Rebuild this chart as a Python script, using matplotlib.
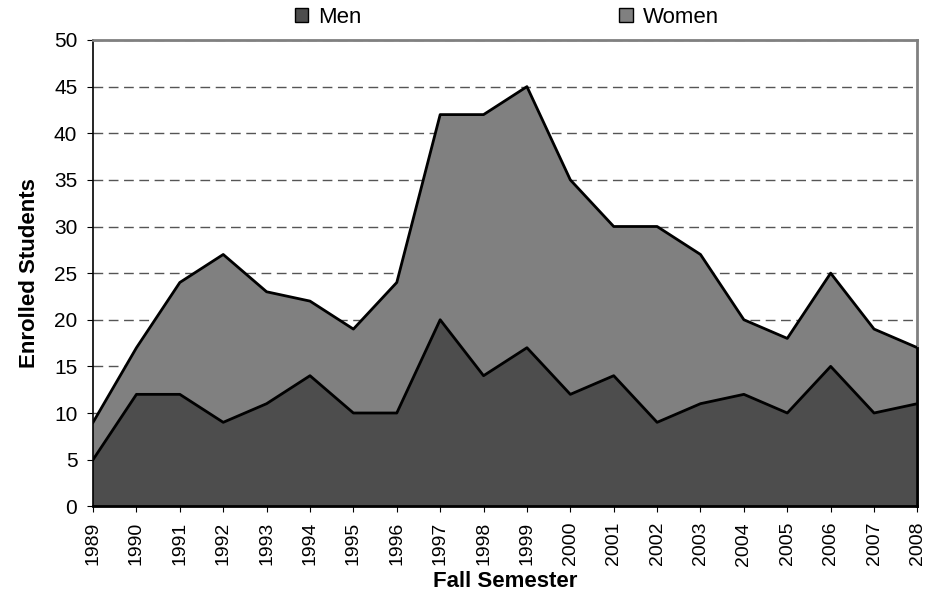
import matplotlib.pyplot as plt
from matplotlib.patches import Patch

years = list(range(1989, 2009))
men = [5, 12, 12, 9, 11, 14, 10, 10, 20, 14, 17, 12, 14, 9, 11, 12, 10, 15, 10, 11]
total = [9, 17, 24, 27, 23, 22, 19, 24, 42, 42, 45, 35, 30, 30, 27, 20, 18, 25, 19, 17]
women = [t - m for t, m in zip(total, men)]

plt.rcParams['font.family'] = 'Liberation Sans'

fig = plt.figure(figsize=(9.4, 5.97), dpi=100)
ax = fig.add_axes([0.099, 0.152, 0.877, 0.781])

ax.stackplot(years, men, women, colors=['#4d4d4d', '#808080'], zorder=2)
ax.plot(years, men, color='black', lw=2, zorder=3)
ax.plot(years, total, color='black', lw=2, zorder=3)
ax.plot([years[-1], years[-1]], [0, total[-1]], color='black', lw=2, zorder=3, clip_on=False)

ax.set_xlim(1989, 2008)
ax.set_ylim(0, 50)
ax.set_yticks(range(0, 51, 5))
ax.set_xticks(years)
ax.set_xticklabels([str(y) for y in years], rotation=90, fontsize=14)
ax.tick_params(axis='y', labelsize=15, direction='out', length=4.3, pad=7)
ax.tick_params(axis='x', direction='out', length=4.3, pad=7)
ax.yaxis.grid(True, linestyle=(0, (7, 4)), color='#555555', lw=1, zorder=1)
ax.set_axisbelow(True)

ax.spines['top'].set_color('#808080')
ax.spines['right'].set_color('#808080')
ax.spines['top'].set_linewidth(2)
ax.spines['right'].set_linewidth(2)
ax.spines['left'].set_linewidth(1.2)
ax.spines['bottom'].set_linewidth(2)

ax.set_xlabel('Fall Semester', fontsize=16, fontweight='bold')
ax.set_ylabel('Enrolled Students', fontsize=16, fontweight='bold')
ax.xaxis.set_label_coords(0.5, -0.139)
ax.yaxis.set_label_coords(-0.064, 0.5)

handles = [Patch(facecolor='#4d4d4d', edgecolor='black'), Patch(facecolor='#808080', edgecolor='black')]
fig.legend(handles, ['Men', 'Women'], loc='center left', bbox_to_anchor=(0.3138, 0.9715),
           ncol=2, frameon=False, fontsize=16, handlelength=0.6, handleheight=0.6,
           handletextpad=0.45, columnspacing=11.6, borderpad=0, borderaxespad=0)

fig.savefig('out.png', dpi=100)
